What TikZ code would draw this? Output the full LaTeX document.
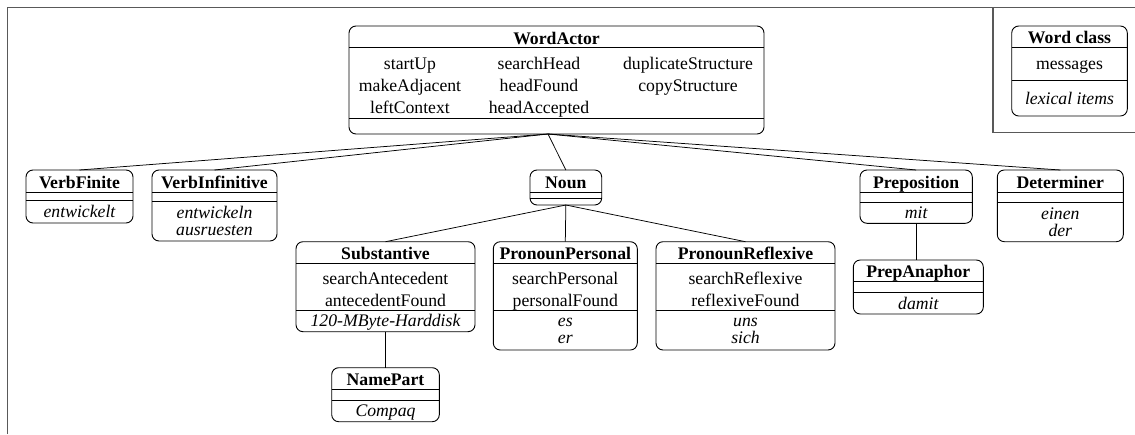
\documentclass[tikz,border=0pt]{standalone}
\usepackage{fontspec}
\setmainfont{Liberation Serif}
\newcommand\umlbox[7]{% name, x1, x2, top, sep1, sep2, bottom
  \pgfmathsetmacro\ubw{#3-#2}\pgfmathsetmacro\ubh{#7-#4}%
  \pgfmathsetmacro\ubx{(#2+#3)/2}\pgfmathsetmacro\uby{(#4+#7)/2}%
  \node[box, minimum width=\ubw pt, minimum height=\ubh pt] (#1) at (\ubx,\uby) {};
  \draw[sepline] (#2,#5) -- (#3,#5) (#2,#6) -- (#3,#6);}
\begin{document}
\begin{tikzpicture}[x=1pt,y=-1pt,
  box/.style={draw, rounded corners=7pt, line width=0.9pt, inner sep=0pt, outer sep=0pt},
  sepline/.style={line width=0.8pt},
  conn/.style={line width=0.75pt},
  frame/.style={line width=1.6pt, draw=black!65},
  ttl/.style={font=\fontsize{17.7}{20}\selectfont\bfseries, anchor=base, inner sep=0pt},
  msg/.style={font=\fontsize{17.7}{20}\selectfont, anchor=base, inner sep=0pt},
  lex/.style={font=\fontsize{17.7}{20}\selectfont\itshape, anchor=base, inner sep=0pt}]
\useasboundingbox (0,0) rectangle (1135,434);

% frame
\draw[frame] (7.3,434) -- (7.3,7.3) -- (1135,7.3);
\draw[frame] (992.7,7.3) -- (992.7,132.3) -- (1135,132.3);

% WordActor
\umlbox{wa}{349}{764}{26}{47.3}{118}{134}
\node[ttl] (wat) at (556.5,44) {WordActor};
\node[msg] (wa11) at (410,69.5) {startUp};
\node[msg] (wa12) at (539,69.5) {searchHead};
\node[msg] (wa13) at (688,69.5) {duplicateStructure};
\node[msg] (wa21) at (410,91.5) {makeAdjacent};
\node[msg] (wa22) at (539,91.5) {headFound};
\node[msg] (wa23) at (688,91.5) {copyStructure};
\node[msg] (wa31) at (410,113.5) {leftContext};
\node[msg] (wa32) at (539,113.5) {headAccepted};

% legend
\umlbox{wc}{1011.7}{1127.3}{26}{47.3}{80.7}{116}
\node[ttl] (wct) at (1069.5,43.5) {Word class};
\node[msg] (wcm) at (1069.5,69.5) {messages};
\node[lex] (wcl) at (1069.5,104) {lexical items};

% VerbFinite
\umlbox{vf}{26}{133}{170}{192.3}{200.7}{223}
\node[ttl] (vft) at (79.5,188.3) {VerbFinite};
\node[lex] (vfl) at (79.5,217.5) {entwickelt};

% VerbInfinitive
\umlbox{vi}{152}{277}{170}{192.3}{201}{241}
\node[ttl] (vit) at (214.5,188.3) {VerbInfinitive};
\node[lex] (vil1) at (214.5,218.3) {entwickeln};
\node[lex] (vil2) at (214.5,235.7) {ausruesten};

% Noun
\umlbox{noun}{530}{601.7}{170}{192.3}{198.3}{205}
\node[ttl] (nount) at (565.85,188.3) {Noun};

% Preposition
\umlbox{prep}{860}{972.3}{170}{192.3}{202.7}{223.3}
\node[ttl] (prept) at (916.15,188.3) {Preposition};
\node[lex] (prepl) at (916.15,218) {mit};

% Determiner
\umlbox{det}{997.3}{1123.3}{170}{192.3}{202.7}{241.7}
\node[ttl] (dett) at (1060.3,188.3) {Determiner};
\node[lex] (detl1) at (1060.3,219.5) {einen};
\node[lex] (detl2) at (1060.3,236.5) {der};

% Substantive
\umlbox{sub}{296}{475}{241.7}{263.3}{310.7}{331.7}
\node[ttl] (subt) at (385.5,259.5) {Substantive};
\node[msg] (subm1) at (385.5,284) {searchAntecedent};
\node[msg] (subm2) at (385.5,306) {antecedentFound};
\node[lex] (subl) at (385.5,326.5) {120-MByte-Harddisk};

% PronounPersonal
\umlbox{pp}{493.3}{637.3}{241.7}{263.3}{310.7}{350}
\node[ttl] (ppt) at (565.3,259.5) {PronounPersonal};
\node[msg] (ppm1) at (565.3,284) {searchPersonal};
\node[msg] (ppm2) at (565.3,306) {personalFound};
\node[lex] (ppl1) at (565.3,326.5) {es};
\node[lex] (ppl2) at (565.3,343.5) {er};

% PronounReflexive
\umlbox{pr}{656}{835}{241.7}{263.3}{310.7}{350}
\node[ttl] (prt) at (745.5,259.5) {PronounReflexive};
\node[msg] (prm1) at (745.5,284) {searchReflexive};
\node[msg] (prm2) at (745.5,306) {reflexiveFound};
\node[lex] (prl1) at (745.5,326.5) {uns};
\node[lex] (prl2) at (745.5,343.5) {sich};

% PrepAnaphor
\umlbox{pa}{853.3}{983.3}{260}{281.7}{292.3}{314}
\node[ttl] (pat) at (918.3,277.7) {PrepAnaphor};
\node[lex] (pal) at (918.3,309) {damit};

% NamePart
\umlbox{np}{331.7}{439.3}{367.7}{389.3}{400.7}{421.7}
\node[ttl] (npt) at (385.5,385.5) {NamePart};
\node[lex] (npl) at (385.5,416) {Compaq};

% connectors
\coordinate (hub) at (548,134);
\draw[conn] (hub) -- (vf.north);
\draw[conn] (hub) -- (vi.north);
\draw[conn] (hub) -- (noun.north);
\draw[conn] (hub) -- (prep.north);
\draw[conn] (hub) -- (det.north);
\draw[conn] (noun.south) -- (sub.north);
\draw[conn] (noun.south) -- (pp.north);
\draw[conn] (noun.south) -- (pr.north);
\draw[conn] (sub.south) -- (np.north);
\draw[conn] (prep.south) -- (prep.south |- pa.north);
\end{tikzpicture}
\end{document}
